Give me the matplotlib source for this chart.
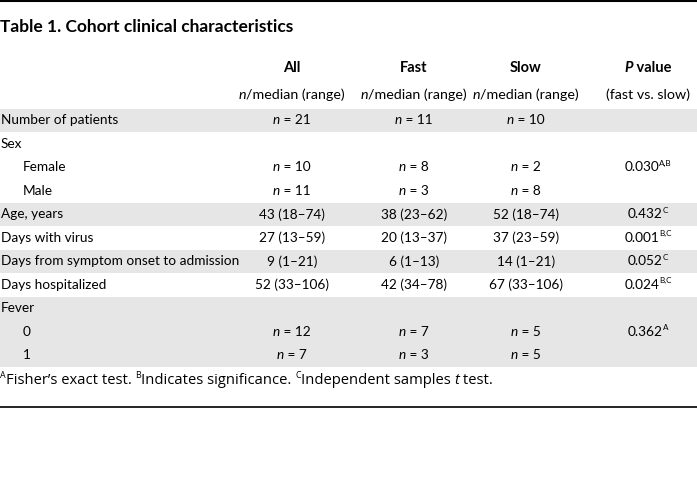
import matplotlib
matplotlib.use("Agg")
import matplotlib.pyplot as plt
from matplotlib.patches import Rectangle

title = "Table 1. Cohort clinical characteristics"
col_heads = ["All", "Fast", "Slow", "P value"]
col_sub = ["n/median (range)", "n/median (range)", "n/median (range)", "(fast vs. slow)"]

row_labels = ["Number of patients", "Sex", "Female", "Male", "Age, years",
              "Days with virus", "Days from symptom onset to admission",
              "Days hospitalized", "Fever", "0", "1"]
indent = [0, 0, 1, 1, 0, 0, 0, 0, 0, 1, 1]
shaded = [1, 0, 0, 0, 1, 0, 1, 0, 1, 1, 1]
all_vals = ["n = 21", "", "n = 10", "n = 11", "43 (18–74)", "27 (13–59)",
            "9 (1–21)", "52 (33–106)", "", "n = 12", "n = 7"]
fast_vals = ["n = 11", "", "n = 8", "n = 3", "38 (23–62)", "20 (13–37)",
             "6 (1–13)", "42 (34–78)", "", "n = 7", "n = 3"]
slow_vals = ["n = 10", "", "n = 2", "n = 8", "52 (18–74)", "37 (23–59)",
             "14 (1–21)", "67 (33–106)", "", "n = 5", "n = 5"]
p_vals = ["", "", "0.030", "", "0.432", "0.001", "0.052", "0.024", "", "0.362", ""]
p_sups = ["", "", "A,B", "", "C", "B,C", "C", "B,C", "", "A", ""]

W, H = 697, 491
NARROW = ["Lato", "DejaVu Sans"]
WIDE = ["Open Sans", "DejaVu Sans"]
GRAY = "#e6e6e6"
FS = 9.8

fig = plt.figure(figsize=(W / 100, H / 100), dpi=100)
ax = fig.add_axes([0, 0, 1, 1])
ax.set_xlim(0, W)
ax.set_ylim(H, 0)
ax.axis("off")
renderer = fig.canvas.get_renderer()


def runs(x, y, parts, ha="center", size=FS, weight="normal", family=NARROW):
    # parts: list of (text, kind) with kind in 'n', 'i', 'sup'
    objs = []
    for txt, kind in parts:
        fs = size * 0.6 if kind == "sup" else size
        dy = -4 if kind == "sup" else 0
        t = ax.text(0, y + dy, txt, fontsize=fs, family=family, weight=weight,
                    style="italic" if kind == "i" else "normal",
                    va="center", ha="left")
        objs.append(t)
    widths = [t.get_window_extent(renderer).width for t in objs]
    total = sum(widths)
    x0 = x - total / 2 if ha == "center" else x
    for t, w in zip(objs, widths):
        t.set_x(x0)
        x0 += w


def cell(s):
    if s.startswith("n "):
        return [("n", "i"), (s[1:], "n")]
    return [(s, "n")]


# rules
ax.plot([0, W], [1, 1], color="black", lw=1.5)
ax.plot([0, W], [407, 407], color="black", lw=1.2)

runs(0, 27, [(title, "n")], ha="left", size=12.5, weight="bold")

col_x = [292, 414, 526, 648]
for cx, head, sub in zip(col_x, col_heads, col_sub):
    if head.startswith("P "):
        runs(cx, 68, [("P", "i"), (head[1:], "n")], size=10.5, weight="bold")
    else:
        runs(cx, 68, [(head, "n")], size=10.5, weight="bold")
    if sub.startswith("n/"):
        runs(cx, 95, [("n", "i"), (sub[1:], "n")], size=10.3)
    else:
        runs(cx, 95, [(sub, "n")], size=10.3)

top = 108.5
rh = 23.5
for i, lab in enumerate(row_labels):
    y0 = top + i * rh
    yc = y0 + rh / 2
    if shaded[i]:
        ax.add_patch(Rectangle((0, y0), W, rh, color=GRAY, lw=0))
    runs(1 + 22 * indent[i], yc, [(lab, "n")], ha="left")
    for cx, v in zip(col_x[:3], [all_vals[i], fast_vals[i], slow_vals[i]]):
        if v:
            runs(cx, yc, cell(v))
    if p_vals[i]:
        runs(col_x[3], yc, [(p_vals[i], "n"), (p_sups[i], "sup")])

runs(0, 380, [("A", "sup"), ("Fisher’s exact test. ", "n"), ("B", "sup"),
              ("Indicates significance. ", "n"), ("C", "sup"),
              ("Independent samples ", "n"), ("t", "i"), (" test.", "n")],
     ha="left", size=10.6, family=WIDE)

fig.savefig("out.png", dpi=100)
